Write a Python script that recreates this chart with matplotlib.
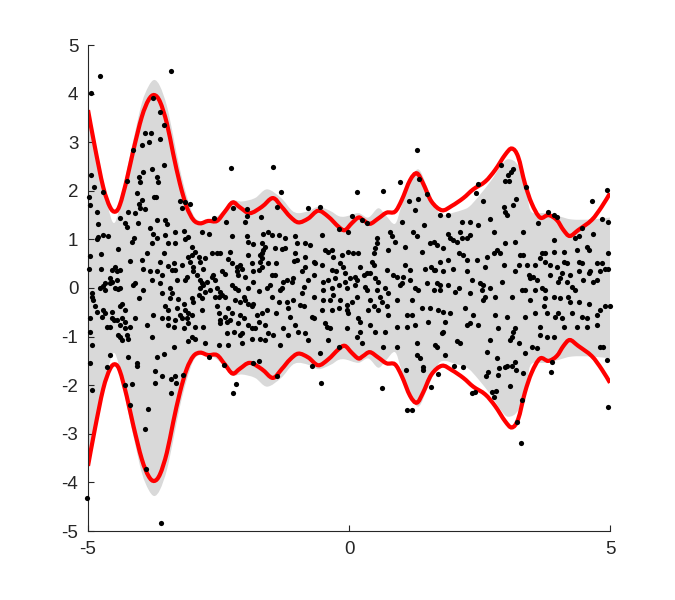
import numpy as np
import matplotlib
matplotlib.use("Agg")
import matplotlib.pyplot as plt
from matplotlib.path import Path
from matplotlib.patches import PathPatch

plt.rcParams['font.family'] = ['Liberation Sans', 'DejaVu Sans']
plt.rcParams['axes.unicode_minus'] = False

# estimated envelope (red), upper half; lower half is its mirror
env_x = [-5.0, -4.87, -4.71, -4.58, -4.48, -4.39, -4.26, -4.13, -3.97, -3.84, -3.73,
         -3.62, -3.49, -3.37, -3.24, -3.11, -2.98, -2.85, -2.70, -2.53, -2.38, -2.23,
         -2.09, -1.90, -1.67, -1.46, -1.29, -1.13, -0.97, -0.78, -0.59, -0.40, -0.20,
         -0.08, 0.05, 0.18, 0.27, 0.40, 0.56, 0.72, 0.88, 1.01, 1.17, 1.30, 1.42, 1.58,
         1.78, 1.97, 2.19, 2.38, 2.61, 2.80, 2.99, 3.12, 3.24, 3.37, 3.50, 3.66, 3.82,
         3.98, 4.11, 4.23, 4.39, 4.65, 4.84, 5.0]
env_y = [3.66, 2.91, 2.08, 1.67, 1.57, 1.71, 2.22, 2.84, 3.52, 3.87, 3.97,
         3.83, 3.39, 2.77, 2.15, 1.67, 1.40, 1.33, 1.38, 1.38, 1.57, 1.76,
         1.66, 1.54, 1.67, 1.85, 1.67, 1.47, 1.35, 1.43, 1.59, 1.47, 1.26,
         1.19, 1.33, 1.45, 1.40, 1.32, 1.43, 1.55, 1.57, 1.81, 2.22, 2.36, 2.15, 1.78,
         1.60, 1.69, 1.85, 2.03, 2.19, 2.43, 2.74, 2.87, 2.70, 2.15, 1.74, 1.45, 1.50,
         1.40, 1.19, 1.07, 1.19, 1.40, 1.67, 1.95]

# true band (gray), upper half
band_x = [-5.0, -4.87, -4.71, -4.53, -4.40, -4.26, -4.13, -3.97, -3.84, -3.73, -3.62,
          -3.49, -3.37, -3.24, -3.11, -2.98, -2.85, -2.60, -2.40, -2.25, -2.05, -1.80,
          -1.57, -1.30, -1.10, -0.97, -0.78, -0.58, -0.35, -0.20, -0.07, 0.18, 0.37,
          0.56, 0.70, 0.88, 1.00, 1.15, 1.33, 1.52, 1.71, 1.84, 2.00, 2.16, 2.30, 2.48,
          2.73, 2.90, 3.05, 3.25, 3.41, 3.50, 3.76, 4.01, 4.27, 4.65, 5.0]
band_y = [3.80, 3.05, 2.15, 1.36, 1.62, 2.40, 3.05, 3.80, 4.15, 4.28, 4.15,
          3.75, 3.15, 2.45, 1.90, 1.50, 1.38, 1.42, 1.60, 1.80, 1.78, 1.85,
          2.03, 1.85, 1.60, 1.54, 1.58, 1.67, 1.58, 1.48, 1.47, 1.54, 1.45,
          1.64, 1.50, 1.32, 1.67, 2.15, 2.44, 2.02, 1.57, 1.50, 1.55, 1.60, 1.67, 1.88,
          2.22, 2.50, 2.65, 2.50, 1.88, 1.56, 1.54, 1.48, 1.41, 1.41, 1.45]

# data points (x, y)
pts = [
    # left middle
    (-4.03, 1.73), (-3.91, 1.62), (-4.83, 1.57), (-3.14, 1.76), (-3.04, 1.73), (-4.39, 1.45),
    (-4.10, 1.54), (-4.80, 1.32), (-4.29, 1.34), (-4.05, 1.34), (-3.68, 1.40), (-3.52, 1.40),
    (-3.49, 1.32), (-4.26, 1.25), (-3.33, 1.16), (-2.82, 1.16), (-2.69, 1.12), (-3.52, 1.10),
    (-4.80, 1.04), (-4.83, 1.00), (-4.71, 1.09), (-4.61, 1.07), (-4.11, 1.02), (-4.16, 0.95),
    (-3.75, 1.12), (-3.68, 1.02), (-3.14, 1.00), (-3.08, 1.04), (-2.25, 1.06), (-1.96, 1.06),
    (-1.93, 0.95), (-1.83, 0.91), (-3.33, 0.92), (-3.46, 0.92), (-3.01, 0.85), (-4.75, 0.70),
    (-4.96, 0.66), (-4.42, 0.80), (-3.78, 0.92), (-3.87, 0.71), (-2.95, 0.75), (-3.01, 0.68),
    (-2.88, 0.64), (-3.08, 0.64), (-2.63, 0.73), (-2.53, 0.73), (-2.47, 0.71), (-2.28, 0.75),
    (-1.93, 0.68), (-1.67, 0.71), (-4.19, 0.56), (-3.97, 0.58), (-3.55, 0.71), (-3.62, 0.54),
    (-3.36, 0.51), (-3.46, 0.45), (-3.20, 0.47), (-3.04, 0.54), (-2.98, 0.44), (-2.85, 0.54),
    (-2.76, 0.61), (-2.31, 0.59), (-2.25, 0.51), (-2.15, 0.44), (-2.05, 0.40), (-2.09, 0.47),
    (-1.86, 0.51), (-1.70, 0.54), (-1.67, 0.44), (-4.99, 0.40), (-4.75, 0.40), (-4.48, 0.44),
    (-4.55, 0.37), (-4.39, 0.37), (-4.45, 0.34), (-3.94, 0.40), (-3.81, 0.34), (-3.68, 0.34),
    (-3.59, 0.27), (-3.40, 0.37), (-3.33, 0.38), (-2.98, 0.34), (-2.92, 0.27), (-2.79, 0.40),
    (-2.44, 0.34), (-2.37, 0.29), (-2.60, 0.27), (-2.15, 0.34), (-2.12, 0.27), (-1.99, 0.23),
    (-1.83, 0.34), (-1.73, 0.37), (-4.58, 0.20), (-4.55, 0.13), (-4.67, 0.11), (-4.77, 0.01),
    (-4.71, 0.04), (-4.45, 0.16), (-4.42, -0.03), (-4.48, -0.01), (-4.58, 0.10), (-4.13, 0.06),
    (-4.10, 0.10), (-3.94, -0.04), (-3.78, 0.16), (-3.62, 0.10), (-3.43, -0.01), (-3.30, 0.16),
    (-3.14, 0.16), (-3.11, 0.23), (-2.85, 0.16), (-2.79, 0.06), (-2.85, -0.01), (-2.82, 0.10),
    (-2.72, 0.13), (-2.63, 0.22), (-2.56, 0.16), (-2.66, -0.04), (-2.53, -0.01), (-2.47, -0.08),
    (-2.44, -0.14), (-2.37, -0.18), (-2.25, 0.06), (-2.18, -0.01), (-2.12, -0.04), (-1.93, -0.01),
    (-2.02, -0.18), (-1.83, 0.13), (-1.73, -0.06), (-4.93, -0.10), (-4.90, -0.25), (-4.93, -0.18),
    (-4.67, -0.05), (-4.39, -0.01), (-4.03, -0.21), (-3.59, -0.10), (-3.40, -0.11), (-3.43, -0.21),
    (-3.27, -0.23), (-3.17, -0.32), (-3.01, -0.21), (-2.98, -0.28), (-2.88, -0.14), (-2.82, -0.21),
    (-2.76, -0.08), (-2.56, -0.18), (-2.50, -0.18), (-2.53, -0.38), (-2.31, -0.42), (-2.18, -0.25),
    (-2.09, -0.28), (-1.99, -0.25), (-1.93, -0.32), (-1.86, -0.38), (-1.83, -0.32), (-4.87, -0.38),
    (-4.83, -0.49), (-4.71, -0.45), (-4.67, -0.52), (-4.55, -0.49), (-4.39, -0.38), (-4.35, -0.32),
    (-4.29, -0.45), (-3.52, -0.37), (-3.46, -0.45), (-3.30, -0.42), (-3.14, -0.45), (-3.20, -0.62),
    (-3.08, -0.52), (-3.01, -0.56), (-2.82, -0.45), (-2.50, -0.52), (-2.37, -0.59), (-2.25, -0.52),
    (-2.09, -0.56), (-2.02, -0.62), (-1.77, -0.56), (-4.96, -0.62), (-4.74, -0.59), (-4.55, -0.62),
    (-4.51, -0.66), (-4.45, -0.66), (-4.35, -0.62), (-4.29, -0.69), (-4.10, -0.62), (-3.75, -0.56),
    (-3.59, -0.62), (-3.46, -0.62), (-3.33, -0.66), (-3.24, -0.56), (-3.11, -0.62), (-3.08, -0.73),
    (-2.47, -0.66), (-2.34, -0.69), (-2.28, -0.66), (-2.12, -0.73), (-1.73, -0.69), (-4.64, -0.80),
    (-4.58, -0.80), (-4.39, -0.76), (-4.29, -0.83), (-4.19, -0.80), (-3.87, -0.76), (-3.46, -0.76),
    (-3.36, -0.80), (-3.17, -0.83), (-2.95, -0.80), (-2.79, -0.80), (-2.47, -0.73), (-1.93, -0.76),
    (-1.86, -0.83), (-1.80, -0.83), (-4.96, -0.90), (-4.42, -0.97), (-4.39, -1.00), (-4.26, -0.97),
    (-4.23, -1.04), (-3.01, -1.00), (-2.95, -1.04), (-2.34, -0.93), (-2.21, -0.90), (-2.09, -0.97),
    (-2.05, -0.93), (-4.93, -1.17), (-4.35, -1.07), (-3.78, -1.00), (-3.36, -1.21), (-3.08, -1.10),
    (-2.76, -1.14), (-2.50, -1.17), (-2.31, -1.17), (-2.05, -1.14), (-1.86, -1.04), (-1.70, -1.04),
    (-4.58, -1.38), (-4.23, -1.41), (-3.68, -1.41), (-3.55, -1.35), (-2.69, -1.41), (-4.96, -1.54),
    (-4.07, -1.55), (-1.83, -1.54), (-1.73, -1.50),
    # centre
    (-0.78, 1.64), (-0.55, 1.67), (0.05, 1.48), (0.24, 1.40), (0.34, 1.33), (-0.20, 1.21),
    (1.27, 1.60), (1.01, 1.36), (1.43, 1.30), (-1.64, 1.12), (-1.55, 1.16), (-1.48, 1.09),
    (-1.35, 1.09), (-1.23, 1.02), (-1.03, 1.06), (-0.52, 1.09), (0.79, 1.16), (0.82, 1.06),
    (1.23, 1.16), (1.30, 1.06), (0.53, 1.02), (-1.67, 0.92), (-1.61, 0.85), (-1.00, 0.92),
    (-0.84, 0.92), (-0.75, 0.88), (0.53, 0.92), (0.88, 0.95), (1.62, 0.95), (1.55, 0.92),
    (1.07, 0.85), (-1.64, 0.78), (-1.42, 0.82), (-1.29, 0.80), (-1.23, 0.82), (-0.46, 0.78),
    (-0.40, 0.75), (-0.33, 0.78), (-0.01, 0.75), (0.08, 0.71), (0.18, 0.71), (0.50, 0.82),
    (0.75, 0.78), (1.39, 0.75), (-1.71, 0.68), (-1.67, 0.61), (-1.03, 0.71), (-1.00, 0.58),
    (-0.84, 0.63), (-0.68, 0.54), (-0.30, 0.64), (-0.14, 0.68), (0.47, 0.71), (0.44, 0.54),
    (0.47, 0.47), (-1.55, 0.51), (-1.39, 0.51), (-1.06, 0.56), (-0.84, 0.44), (-0.65, 0.51),
    (-0.52, 0.47), (-0.17, 0.51), (-0.11, 0.44), (0.21, 0.44), (0.72, 0.37), (1.07, 0.47),
    (1.17, 0.37), (1.46, 0.40), (1.58, 0.44), (1.62, 0.37), (-0.33, 0.37), (-0.24, 0.34),
    (-0.08, 0.30), (0.12, 0.23), (0.15, 0.16), (0.28, 0.27), (0.34, 0.30), (0.40, 0.30),
    (-1.48, 0.27), (-1.42, 0.27), (-1.26, 0.13), (-1.19, 0.16), (-1.10, 0.13), (-1.07, 0.20),
    (-0.91, 0.34), (-0.78, 0.16), (-0.68, 0.27), (-0.49, 0.13), (-0.40, 0.16), (-0.27, 0.20),
    (-0.08, 0.13), (0.02, 0.20), (0.50, 0.20), (0.56, 0.13), (0.85, 0.27), (0.91, 0.23),
    (0.98, 0.06), (1.01, 0.10), (1.04, 0.23), (1.17, 0.16), (1.27, -0.01), (1.33, -0.04),
    (1.49, 0.10), (-1.51, 0.06), (-1.58, -0.01), (-1.32, -0.04), (-1.29, -0.01), (-0.87, 0.03),
    (-0.49, -0.04), (-0.33, -0.01), (-0.20, 0.06), (-0.04, -0.01), (0.12, 0.06), (0.31, 0.03),
    (0.34, -0.04), (0.53, -0.04), (0.69, -0.01), (0.75, -0.11), (1.62, -0.04), (-1.48, -0.18),
    (-1.35, -0.28), (-1.19, -0.28), (-1.07, -0.25), (-0.91, -0.11), (-0.94, -0.35), (-0.87, -0.38),
    (-0.68, -0.18), (-0.49, -0.25), (-0.36, -0.25), (-0.30, -0.14), (-0.17, -0.25), (-0.04, -0.35),
    (0.05, -0.28), (0.15, -0.18), (0.40, -0.25), (0.60, -0.18), (0.63, -0.28), (0.72, -0.38),
    (0.91, -0.25), (1.20, -0.25), (1.39, -0.42), (1.55, -0.42), (-1.67, -0.52), (-1.58, -0.45),
    (-1.39, -0.52), (-1.16, -0.42), (-1.13, -0.59), (-0.71, -0.59), (-0.68, -0.62), (-0.52, -0.45),
    (-0.33, -0.45), (-0.20, -0.42), (-0.04, -0.45), (-0.01, -0.52), (0.18, -0.62), (0.21, -0.69),
    (0.37, -0.45), (0.47, -0.38), (0.56, -0.45), (0.75, -0.56), (1.11, -0.56), (1.20, -0.56),
    (-1.61, -0.76), (-1.26, -0.83), (-1.03, -0.76), (-0.97, -0.90), (-0.46, -0.73), (-0.43, -0.80),
    (-0.36, -0.83), (-0.04, -0.83), (0.21, -0.90), (0.40, -0.76), (0.50, -0.90), (0.69, -0.90),
    (0.91, -0.80), (1.11, -0.80), (1.27, -0.76), (1.52, -0.69), (-1.55, -0.93), (-1.45, -0.97),
    (-1.16, -0.97), (-0.84, -0.93), (0.15, -1.00), (-1.61, -1.07), (-1.32, -1.17), (-0.78, -1.07),
    (-0.40, -1.07), (0.24, -1.14), (0.66, -1.21), (0.91, -1.21), (1.30, -1.14), (1.65, -1.17),
    (-0.55, -1.34), (-0.20, -1.21), (1.30, -1.38), (1.36, -1.45),
    # right middle
    (2.57, 1.78), (2.96, 1.67), (3.15, 1.71), (2.99, 1.57), (3.02, 1.50), (3.82, 1.57),
    (3.92, 1.50), (3.98, 1.47), (4.65, 1.78), (1.74, 1.50), (1.90, 1.50), (2.70, 1.41),
    (3.63, 1.33), (4.46, 1.23), (4.84, 1.43), (4.97, 1.36), (2.16, 1.36), (2.32, 1.36),
    (2.48, 1.30), (2.77, 1.16), (3.34, 1.16), (4.68, 1.12), (1.90, 1.12), (2.13, 1.16),
    (2.00, 0.99), (1.94, 1.02), (2.06, 0.95), (2.32, 1.09), (2.26, 1.02), (2.16, 1.02),
    (1.68, 0.88), (1.81, 0.82), (3.18, 0.95), (2.99, 0.92), (3.92, 0.99), (4.33, 1.02),
    (4.40, 1.06), (4.56, 0.85), (4.59, 0.78), (2.10, 0.71), (2.19, 0.68), (2.83, 0.78),
    (2.89, 0.71), (2.77, 0.71), (2.64, 0.64), (3.34, 0.68), (3.28, 0.68), (3.69, 0.71),
    (3.76, 0.71), (3.92, 0.75), (4.11, 0.75), (4.36, 0.78), (4.97, 0.71), (1.74, 0.54),
    (1.90, 0.58), (2.26, 0.58), (2.45, 0.58), (2.96, 0.47), (3.25, 0.47), (3.41, 0.47),
    (3.56, 0.47), (3.66, 0.61), (3.76, 0.54), (3.85, 0.47), (3.98, 0.44), (4.11, 0.54),
    (4.17, 0.51), (4.40, 0.54), (4.46, 0.51), (4.75, 0.51), (4.84, 0.51), (4.91, 0.40),
    (4.97, 0.40), (1.65, 0.37), (1.81, 0.34), (2.00, 0.40), (2.26, 0.34), (2.61, 0.44),
    (3.18, 0.34), (3.44, 0.27), (3.47, 0.20), (3.53, 0.23), (3.60, 0.16), (3.85, 0.27),
    (4.08, 0.30), (4.24, 0.27), (4.40, 0.34), (4.59, 0.30), (4.62, 0.34), (4.81, 0.34),
    (1.68, 0.10), (1.74, 0.06), (1.90, 0.06), (2.10, -0.01), (2.35, 0.16), (2.51, 0.10),
    (2.54, -0.04), (2.57, 0.06), (2.70, -0.01), (2.93, 0.13), (3.37, -0.04), (3.31, -0.04),
    (3.56, -0.04), (3.69, -0.01), (3.76, -0.04), (4.01, 0.13), (4.04, 0.20), (4.17, 0.13),
    (4.27, 0.03), (4.33, -0.04), (4.49, 0.16), (4.68, 0.13), (4.75, 0.16), (1.74, -0.04),
    (2.03, -0.08), (2.32, -0.11), (2.61, -0.18), (2.57, -0.25), (2.80, -0.18), (3.12, -0.18),
    (3.47, -0.25), (3.76, -0.21), (3.92, -0.18), (4.04, -0.21), (4.20, -0.18), (4.24, -0.28),
    (4.40, -0.28), (4.59, -0.32), (4.91, -0.38), (5.00, -0.38), (1.71, -0.45), (1.81, -0.49),
    (1.94, -0.52), (2.22, -0.42), (2.38, -0.56), (2.80, -0.56), (3.02, -0.59), (3.37, -0.59),
    (3.56, -0.52), (3.73, -0.38), (3.79, -0.52), (3.95, -0.59), (4.01, -0.52), (4.08, -0.62),
    (4.27, -0.52), (4.46, -0.59), (4.56, -0.62), (4.75, -0.56), (4.81, -0.45), (1.84, -0.69),
    (2.26, -0.76), (2.32, -0.73), (2.48, -0.76), (2.86, -0.83), (3.18, -0.83), (3.66, -0.80),
    (4.11, -0.80), (4.36, -0.80), (4.56, -0.80), (4.75, -0.76), (1.78, -0.93), (1.81, -0.90),
    (3.15, -0.90), (3.12, -1.00), (3.66, -0.97), (3.79, -1.00), (3.92, -1.00), (2.13, -1.14),
    (2.06, -1.10), (2.70, -1.07), (3.09, -1.07), (3.25, -1.14), (3.50, -1.21), (1.68, -1.21),
    (2.64, -1.31), (3.37, -1.34), (3.60, -1.24), (1.84, -1.38), (2.83, -1.45), (3.18, -1.52),
    (3.88, -1.52), (4.81, -1.21), (4.87, -1.21), (4.94, -1.48),
    # upper outer
    (-4.77, 4.36), (-4.95, 4.02), (-3.41, 4.47), (-3.75, 3.90), (-3.63, 3.62), (-3.55, 3.35),
    (-3.91, 3.18), (-3.79, 3.18), (-3.83, 3.01), (-3.62, 3.07), (-3.96, 2.94), (-4.13, 2.83),
    (-4.95, 2.32), (-4.88, 2.07), (-4.71, 1.98), (-4.98, 1.88), (-4.26, 2.20), (-4.03, 2.29),
    (-4.00, 2.19), (-3.78, 2.45), (-3.68, 2.29), (-3.66, 2.19), (-3.54, 2.53), (-3.94, 2.39),
    (-4.07, 1.95), (-3.97, 1.82), (-3.73, 1.87), (-3.69, 1.87), (-2.26, 2.46), (-1.46, 2.48),
    (-1.31, 1.97), (-4.96, 1.71), (-4.00, 1.64), (-4.23, 1.57), (-3.81, 1.23), (-3.16, 1.18),
    (-3.24, 1.78), (-3.19, 1.64), (-2.58, 1.45), (-2.35, 1.36), (-2.23, 1.64), (-1.96, 1.62),
    (-1.96, 1.49), (-1.99, 1.35), (-1.69, 1.47), (-1.37, 1.66), (-0.02, 1.16),
    (1.30, 2.83), (0.15, 1.98), (0.66, 1.99), (0.98, 2.19), (1.34, 2.24), (1.50, 1.93),
    (1.32, 1.83), (1.14, 1.78), (2.43, 1.95), (2.48, 2.13), (2.91, 2.53), (3.05, 2.32),
    (3.10, 2.39), (3.14, 2.44), (2.99, 2.20), (3.07, 2.20), (3.39, 2.07), (3.20, 1.84),
    (4.95, 2.02),
    # lower outer
    (-4.64, -1.62), (-4.07, -1.60), (-3.72, -1.71), (-3.59, -1.82), (-3.41, -1.87), (-3.34, -1.82),
    (-3.32, -1.96), (-3.18, -1.80), (-3.71, -1.96), (-4.30, -1.99), (-4.16, -1.98), (-3.41, -2.17),
    (-4.93, -2.10), (-4.19, -2.41), (-3.86, -2.48), (-3.91, -2.91), (-3.89, -3.72), (-5.01, -4.33),
    (-3.60, -4.84), (-2.40, -1.58), (-2.23, -2.17), (-2.16, -1.98), (-1.37, -1.82), (-0.71, -1.60),
    (-0.54, -1.96), (0.64, -2.06), (1.09, -1.68), (1.41, -1.62), (1.41, -1.68), (1.70, -1.76),
    (1.57, -2.04), (1.11, -2.51), (1.20, -2.50), (2.01, -1.60), (2.18, -1.62), (2.67, -1.73),
    (2.63, -1.82), (2.87, -1.65), (2.99, -1.62), (3.02, -1.60), (3.13, -1.60), (2.86, -1.78),
    (3.20, -1.69), (3.34, -1.74), (3.87, -1.72), (2.35, -2.17), (2.41, -2.13), (2.73, -2.15),
    (2.81, -2.12), (2.77, -2.24), (3.09, -2.01), (3.31, -2.30), (3.22, -2.75), (3.30, -3.18),
    (4.97, -2.44),
]

x_ticks = [-5, 0, 5]
y_ticks = [-5, -4, -3, -2, -1, 0, 1, 2, 3, 4, 5]


def bezier_segs(xs, ys):
    # catmull-rom through the read points, as cubic bezier segments
    p = np.column_stack([xs, ys])
    ext = np.vstack([p[0], p, p[-1]])
    verts, codes = [], []
    for i in range(len(p) - 1):
        p0, p1, p2, p3 = ext[i], ext[i + 1], ext[i + 2], ext[i + 3]
        verts += [p1 + (p2 - p0) / 6, p2 - (p3 - p1) / 6, p2]
        codes += [Path.CURVE4] * 3
    return p[0], verts, codes


env_x = np.array(env_x)
env_y = np.array(env_y)
band_x = np.array(band_x)
band_y = np.array(band_y)
pts = np.array(pts)

fig = plt.figure(figsize=(6.75, 6.0), dpi=100)
ax = fig.add_axes([0.1304, 0.115, 0.7733, 0.81])

# gray band: upper edge forward, lower edge back
start, v_up, c_up = bezier_segs(band_x, band_y)
start_lo, v_lo, c_lo = bezier_segs(band_x[::-1], -band_y[::-1])
verts = [start] + v_up + [start_lo] + v_lo + [start]
codes = [Path.MOVETO] + c_up + [Path.LINETO] + c_lo + [Path.CLOSEPOLY]
ax.add_patch(PathPatch(Path(verts, codes), facecolor='#d9d9d9', edgecolor='none', zorder=1))

for sign in (1, -1):
    s0, v, c = bezier_segs(env_x, sign * env_y)
    ax.add_patch(PathPatch(Path([s0] + v, [Path.MOVETO] + c), facecolor='none',
                           edgecolor='red', lw=3, zorder=2, capstyle='butt'))

ax.scatter(pts[:, 0], pts[:, 1], s=14, color='black', linewidths=0, zorder=3, clip_on=False)

ax.set_xlim(-5, 5)
ax.set_ylim(-5, 5)
ax.set_xticks(x_ticks)
ax.set_yticks(y_ticks)
for s in ['top', 'right']:
    ax.spines[s].set_visible(False)
for s in ['left', 'bottom']:
    ax.spines[s].set_color('#262626')
    ax.spines[s].set_linewidth(0.8)
ax.tick_params(direction='in', length=4, width=0.8, colors='#262626',
               labelsize=13.5, pad=7)

fig.savefig('out.png', dpi=100, facecolor='white')
